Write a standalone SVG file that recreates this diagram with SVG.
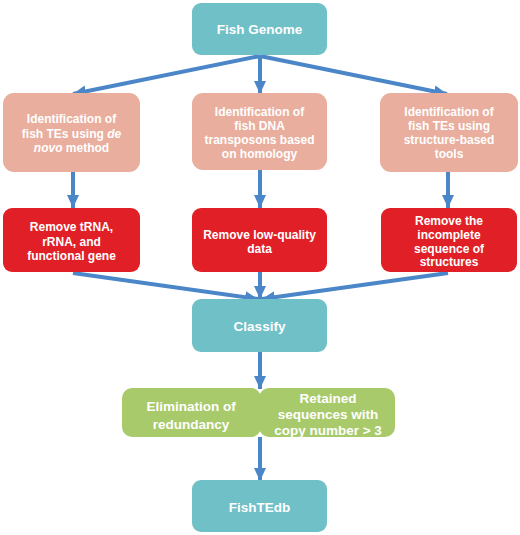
<svg xmlns="http://www.w3.org/2000/svg" width="520" height="535" viewBox="0 0 520 535">
<defs>
<marker id="ah" markerUnits="userSpaceOnUse" markerWidth="14" markerHeight="14" viewBox="0 0 14 14" refX="13" refY="7" orient="auto">
<path d="M0,1 L13,7 L0,13 Z" fill="#4A86C8"/>
</marker>
<style>
.teal{fill:#6FC0C7}
.pink{fill:#E9AE9D}
.red{fill:#E02026}
.green{fill:#A8CA6A}
.t{font-family:"Liberation Sans",Arial,sans-serif;font-weight:bold;fill:#FFFFFF;text-anchor:middle}
.s{font-size:12px}
.b{font-size:13.5px}
.c line{stroke:#4A86C8;stroke-width:4;marker-end:url(#ah)}
</style>
</defs>
<rect width="520" height="535" fill="#FFFFFF"/>
<g class="c" id="connectors">
<line x1="260" y1="56" x2="73" y2="94"/>
<line x1="260" y1="56" x2="260" y2="94"/>
<line x1="260" y1="56" x2="447" y2="94"/>
<line x1="73" y1="172" x2="73" y2="208"/>
<line x1="260" y1="170" x2="260" y2="208"/>
<line x1="448" y1="172" x2="448" y2="208"/>
<line x1="73" y1="273" x2="258" y2="299"/>
<line x1="260" y1="272" x2="260" y2="299"/>
<line x1="448" y1="273" x2="262" y2="299"/>
<line x1="260" y1="352" x2="260" y2="389"/>
<line x1="260" y1="437" x2="260" y2="481"/>
</g>
<g id="fish-genome">
<rect class="teal" x="192" y="3" width="135" height="52" rx="9"/>
<text class="t b" x="259.5" y="34">Fish Genome</text>
</g>
<g id="denovo">
<rect class="pink" x="3" y="93" width="137" height="79" rx="11"/>
<text class="t s" x="71.5" y="123">Identification of</text>
<text class="t s" x="71.5" y="137.5">fish TEs using <tspan font-style="italic"> de</tspan></text>
<text class="t s" x="71.5" y="152"><tspan font-style="italic">novo</tspan> method</text>
</g>
<g id="homology">
<rect class="pink" x="192" y="93" width="135" height="77" rx="11"/>
<text class="t s" x="259.5" y="116">Identification of</text>
<text class="t s" x="259.5" y="130">fish DNA</text>
<text class="t s" x="259.5" y="144">transposons based</text>
<text class="t s" x="259.5" y="157.5">on homology</text>
</g>
<g id="structure">
<rect class="pink" x="380" y="93" width="138" height="79" rx="11"/>
<text class="t s" x="449" y="116">Identification of</text>
<text class="t s" x="449" y="130">fish TEs using</text>
<text class="t s" x="449" y="144">structure-based</text>
<text class="t s" x="449" y="157.5">tools</text>
</g>
<g id="remove-trna">
<rect class="red" x="3" y="208" width="137" height="64" rx="9"/>
<text class="t s" x="71.5" y="231">Remove tRNA,</text>
<text class="t s" x="71.5" y="246">rRNA, and</text>
<text class="t s" x="71.5" y="260">functional gene</text>
</g>
<g id="remove-lowq">
<rect class="red" x="192" y="208" width="135" height="64" rx="9"/>
<text class="t s" x="259.5" y="239">Remove low-quality</text>
<text class="t s" x="259.5" y="252.5">data</text>
</g>
<g id="remove-incomplete">
<rect class="red" x="381" y="208" width="136" height="64" rx="9"/>
<text class="t s" x="449" y="225">Remove the</text>
<text class="t s" x="449" y="238.5">incomplete</text>
<text class="t s" x="449" y="252.5">sequence of</text>
<text class="t s" x="449" y="266">structures</text>
</g>
<g id="classify">
<rect class="teal" x="192" y="299" width="135" height="53" rx="9"/>
<text class="t b" x="259.5" y="331">Classify</text>
</g>
<g id="elimination">
<rect class="green" x="122" y="388" width="139" height="49" rx="10"/>
<text class="t b" x="191" y="411">Elimination of</text>
<text class="t b" x="191" y="429">redundancy</text>
</g>
<g id="retained">
<rect class="green" x="259" y="388" width="136" height="49" rx="10"/>
<text class="t b" x="328" y="403">Retained</text>
<text class="t b" x="328" y="419">sequences with</text>
<text class="t b" x="328" y="435">copy number &gt; 3</text>
</g>
<g id="fishtedb">
<rect class="teal" x="192" y="480" width="135" height="52" rx="9"/>
<text class="t b" x="259.5" y="512">FishTEdb</text>
</g>
</svg>
